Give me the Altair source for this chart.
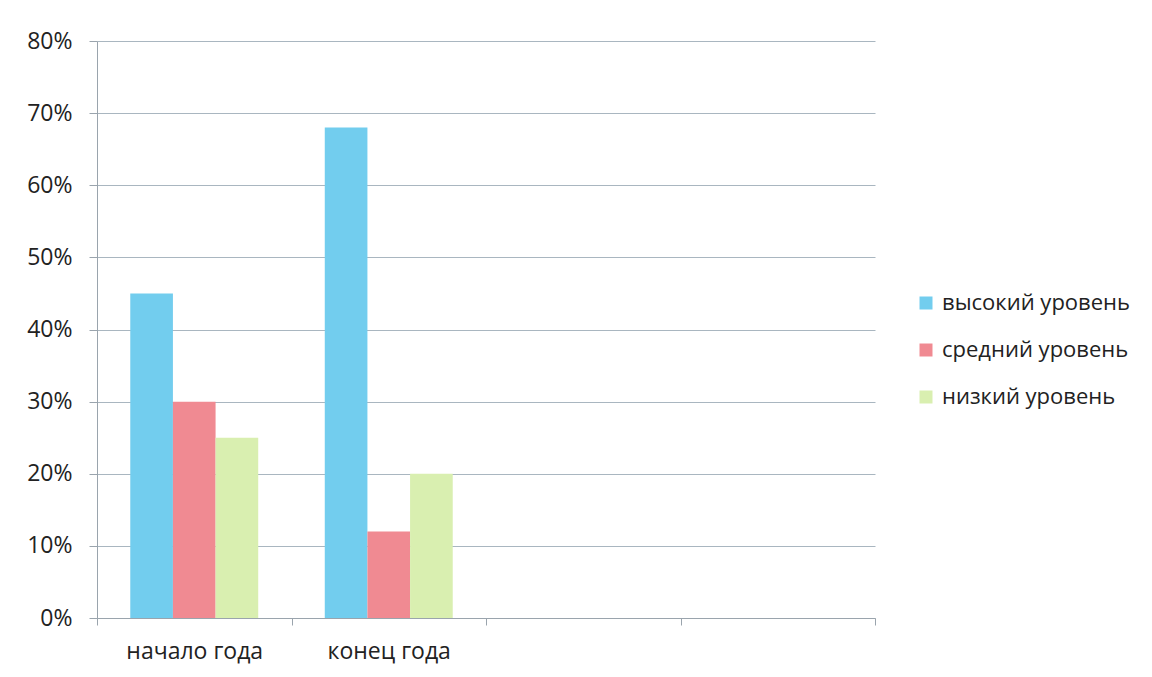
import altair as alt
import pandas as pd

categories = ["начало года", "конец года", " ", "  "]
series = ["высокий уровень", "средний уровень", "низкий уровень"]
start_values = [0.45, 0.30, 0.25]
end_values = [0.68, 0.12, 0.20]
colors = ["#72cdee", "#f08a92", "#d9efb0"]
y_ticks = [0, 0.1, 0.2, 0.3, 0.4, 0.5, 0.6, 0.7, 0.8]

rows = []
for s, v in zip(series, start_values):
    rows.append({"cat": categories[0], "series": s, "value": v})
for s, v in zip(series, end_values):
    rows.append({"cat": categories[1], "series": s, "value": v})
df = pd.DataFrame(rows)

FONT = "Open Sans"

chart = alt.Chart(df).mark_bar().encode(
    x=alt.X("cat:N", sort=categories,
            scale=alt.Scale(domain=categories, paddingInner=0, paddingOuter=0),
            axis=alt.Axis(title=None, labelAngle=0, tickBand="extent", tickSize=7,
                          labelPadding=15, labelFontSize=23, labelColor="#222",
                          labelFont=FONT, domainColor="#9aa4ad", tickColor="#9aa4ad",
                          grid=False)),
    xOffset=alt.XOffset("series:N", sort=series,
                        scale=alt.Scale(domain=series, paddingInner=0, paddingOuter=0.78)),
    y=alt.Y("value:Q",
            scale=alt.Scale(domain=[0, 0.8], nice=False),
            axis=alt.Axis(title=None, values=y_ticks, format=".0%", tickSize=8,
                          labelPadding=17, labelFontSize=23, labelColor="#222",
                          labelFont=FONT, domainColor="#9aa4ad", tickColor="#9aa4ad",
                          gridColor="#a9b6c0", gridWidth=1)),
    color=alt.Color("series:N", sort=series,
                    scale=alt.Scale(domain=series, range=colors),
                    legend=alt.Legend(title=None, orient="none", legendX=818, legendY=251,
                                      symbolType="square", symbolSize=169,
                                      symbolStrokeWidth=0, labelFontSize=22,
                                      labelFont=FONT, labelColor="#222",
                                      rowPadding=25, labelOffset=5, labelLimit=300)),
).properties(
    width=778, height=577,
    autosize=alt.AutoSizeParams(type="none"),
    padding={"left": 89, "top": 33, "right": 266, "bottom": 47},
).configure_view(stroke=None)

chart.save("out.html", embed_options={"renderer": "svg", "actions": False})
